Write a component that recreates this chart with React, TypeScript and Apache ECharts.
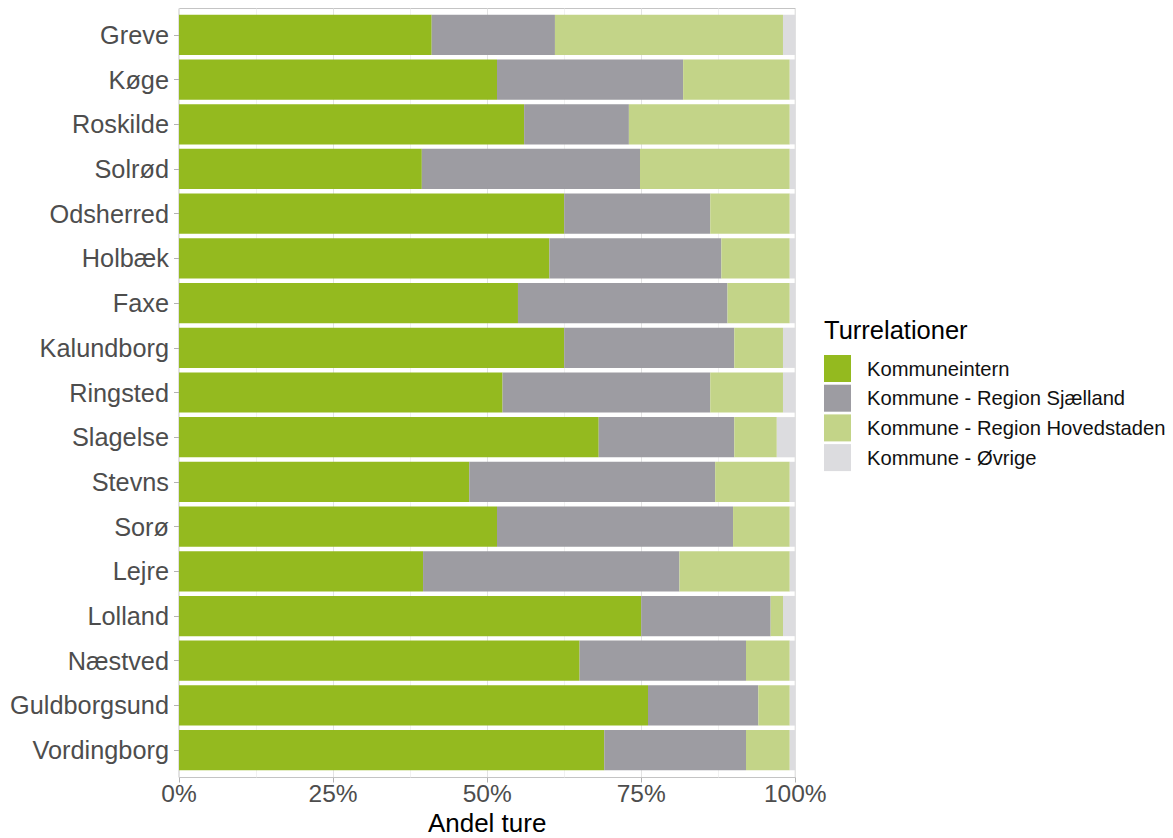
import React, { useEffect, useRef } from "react";
import * as echarts from "echarts";

const categories = [
  "Greve", "Køge", "Roskilde", "Solrød", "Odsherred", "Holbæk", "Faxe", "Kalundborg",
  "Ringsted", "Slagelse", "Stevns", "Sorø", "Lejre", "Lolland", "Næstved", "Guldborgsund", "Vordingborg",
];
const seriesNames = [
  "Kommuneintern",
  "Kommune - Region Sjælland",
  "Kommune - Region Hovedstaden",
  "Kommune - Øvrige",
];
const kommuneintern = [41, 51.6, 56, 39.4, 62.5, 60.1, 55, 62.5, 52.5, 68.1, 47.1, 51.6, 39.6, 75, 65, 76.1, 69];
const regionSjaelland = [20, 30.2, 17, 35.4, 23.7, 27.9, 34, 27.6, 33.7, 22, 39.9, 38.3, 41.6, 21, 27, 17.9, 23];
const regionHovedstaden = [37, 17.3, 26.1, 24.3, 12.9, 11.1, 10.1, 7.9, 11.8, 6.9, 12.1, 9.2, 17.9, 2, 7.1, 5.1, 7.1];
const oevrige = [2, 0.9, 0.9, 0.9, 0.9, 0.9, 0.9, 2, 2, 3, 0.9, 0.9, 0.9, 2, 0.9, 0.9, 0.9];
const xTicks = [0, 25, 50, 75, 100];

const colors = ["#94BA1F", "#9D9CA2", "#C3D488", "#DCDCDF"];
const FONT = "'Liberation Sans', Arial, sans-serif";

export default function App() {
  const ref = useRef<HTMLDivElement>(null);
  useEffect(() => {
    if (!ref.current) return;
    const chart = echarts.init(ref.current, undefined, { renderer: "svg" });
    const values = [kommuneintern, regionSjaelland, regionHovedstaden, oevrige];
    const left = 179;
    const right = 1173 - 795.3;
    chart.setOption({
      animation: false,
      textStyle: { fontFamily: FONT },
      grid: [
        { left, right, top: 12.5, bottom: 838 - 772.5, z: 2, outerBoundsMode: "none", containLabel: false },
        {
          left, right, top: 8.5, bottom: 838 - 777.5, outerBoundsMode: "none", containLabel: false,
          show: true, borderColor: "#c4c4c4", borderWidth: 1, backgroundColor: "transparent", z: 0,
        },
      ],
      xAxis: [
        { gridIndex: 0, type: "value", min: 0, max: 100, show: false },
        {
          gridIndex: 1, type: "value", min: 0, max: 100, interval: 25,
          axisLine: { show: false },
          axisTick: { show: true, length: 5, lineStyle: { color: "#b3b3b3" } },
          axisLabel: {
            show: true, margin: 6, fontSize: 24.5, lineHeight: 20, color: "#4D4D4D", fontFamily: FONT,
            formatter: (v: number) => (xTicks.includes(v) ? v + "%" : ""),
          },
          splitLine: { show: true, lineStyle: { color: "#e3e3e3", width: 1 } },
          minorTick: { show: false, splitNumber: 2 },
          minorSplitLine: { show: true, lineStyle: { color: "#ededed", width: 0.8 } },
          name: "Andel ture",
          nameLocation: "middle",
          nameGap: 35,
          nameMoveOverlap: false,
          nameTextStyle: { fontSize: 26, lineHeight: 20, color: "#000", fontFamily: FONT, verticalAlign: "top" },
        },
      ],
      yAxis: [
        {
          gridIndex: 0, type: "category", data: categories, inverse: true,
          axisLine: { show: false },
          axisTick: { show: true, alignWithLabel: true, length: 5, lineStyle: { color: "#b3b3b3" } },
          axisLabel: { margin: 10, fontSize: 25.3, color: "#4D4D4D", fontFamily: FONT },
          splitLine: { show: false },
        },
        { gridIndex: 1, type: "value", show: false, splitLine: { show: false } },
      ],
      legend: {
        orient: "vertical",
        left: 824,
        top: 355,
        itemWidth: 27,
        itemHeight: 27,
        itemGap: 2.7,
        icon: "rect",
        padding: 0,
        data: seriesNames,
        textStyle: { fontSize: 20.2, color: "#111", fontFamily: FONT, padding: [0, 0, 0, 11] },
      },
      graphic: [
        {
          type: "text",
          left: 824,
          top: 317,
          style: { text: "Turrelationer", fontSize: 25.5, fill: "#000", fontFamily: FONT },
        },
      ],
      series: seriesNames.map((name, i) => ({
        name,
        type: "bar",
        stack: "total",
        xAxisIndex: 0,
        yAxisIndex: 0,
        barCategoryGap: "10%",
        itemStyle: { color: colors[i] },
        emphasis: { disabled: true },
        data: values[i],
      })),
    });
    return () => chart.dispose();
  }, []);
  return (
    <div
      ref={ref}
      style={{ position: "fixed", left: 0, top: 0, width: 1173, height: 838, background: "#fff" }}
    />
  );
}
